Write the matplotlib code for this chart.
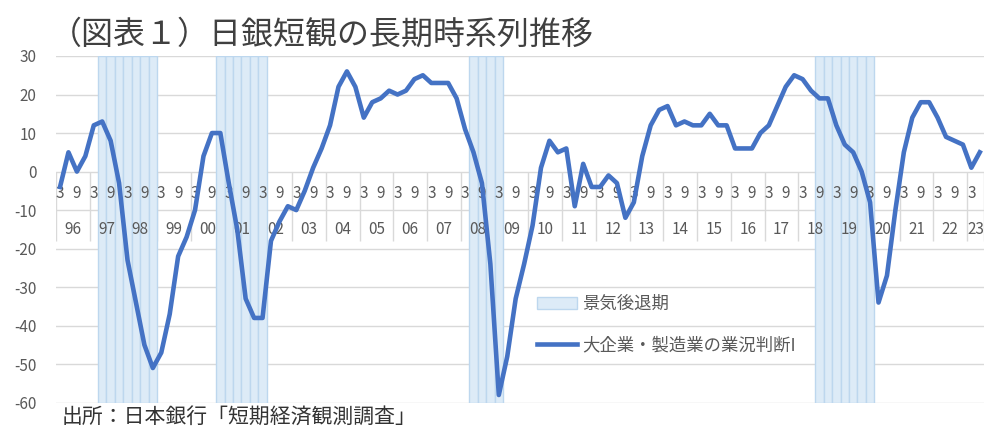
import matplotlib
matplotlib.use("Agg")
import matplotlib.pyplot as plt
from matplotlib.patches import Patch
from matplotlib.lines import Line2D

plt.rcParams['font.family'] = ['Noto Sans CJK JP', 'DejaVu Sans']

# 大企業・製造業の業況判断DI（四半期、1996年3月～2023年6月）
di = [
    -4, 5, 0, 4,
    12, 13, 8, -3,
    -23, -34, -45, -51,
    -47, -37, -22, -17,
    -10, 4, 10, 10,
    -3, -15, -33, -38,
    -38, -18, -13, -9,
    -10, -5, 1, 6,
    12, 22, 26, 22,
    14, 18, 19, 21,
    20, 21, 24, 25,
    23, 23, 23, 19,
    11, 5, -3, -24,
    -58, -48, -33, -24,
    -14, 1, 8, 5,
    6, -9, 2, -4,
    -4, -1, -3, -12,
    -8, 4, 12, 16,
    17, 12, 13, 12,
    12, 15, 12, 12,
    6, 6, 6, 10,
    12, 17, 22, 25,
    24, 21, 19, 19,
    12, 7, 5, 0,
    -8, -34, -27, -10,
    5, 14, 18, 18,
    14, 9, 8, 7,
    1, 5,
]
years = list(range(1996, 2024))
months = [3, 6, 9, 12]
month_labels = {3: "3", 9: "9"}

# 景気後退期（シャドー部分、四半期）
recessions = [
    ((1997, 6), (1998, 12)),
    ((2000, 12), (2002, 3)),
    ((2008, 6), (2009, 3)),
    ((2018, 9), (2020, 3)),
]

yticks = [30, 20, 10, 0, -10, -20, -30, -40, -50, -60]

quarters = [(y, m) for y in years for m in months][:len(di)]
x = list(range(len(quarters)))

LINE = "#4472C4"
FILL = "#DDEBF7"
EDGE = "#BDD7EE"
GRID = "#D9D9D9"
TXT = "#595959"

fig = plt.figure(figsize=(10.02, 4.37), dpi=100)
ax = fig.add_axes([55.8 / 1002, 1 - 402.7 / 437, 928.2 / 1002, 346.7 / 437])
ax.set_xlim(-0.5, len(quarters) - 0.5)
ax.set_ylim(-60, 30)
for s in ax.spines.values():
    s.set_visible(False)

# 目盛線
for v in yticks:
    ax.axhline(v, color=GRID, lw=1.0, zorder=0)

# 景気後退期
shade_x = []
for start, end in recessions:
    i0, i1 = quarters.index(start), quarters.index(end)
    shade_x.extend(range(i0, i1 + 1))
ax.bar(shade_x, [90] * len(shade_x), bottom=-60, width=1.0,
       color=FILL, edgecolor=EDGE, linewidth=1.0, zorder=1)

# 系列
ax.plot(x, di, color=LINE, lw=3.3, zorder=4, solid_joinstyle="round")

# 横軸ラベル（0の位置に表形式で表示）
bounds = [quarters.index((y, 3)) - 0.5 for y in years] + [len(quarters) - 0.5]
ax.vlines(bounds, -18, 0, color=GRID, lw=1.0, zorder=0)
for i, (y, m) in enumerate(quarters):
    if m in month_labels:
        ax.text(i, -5.8, month_labels[m], ha="center", va="center",
                fontsize=11, color=TXT, zorder=3)
for k, y in enumerate(years):
    idx = [i for i, q in enumerate(quarters) if q[0] == y]
    xc = (idx[0] + idx[-1]) / 2
    ax.text(xc, -15.1, f"{y % 100:02d}", ha="center", va="center",
            fontsize=11, color=TXT, zorder=3)

ax.set_xticks([])
ax.set_yticks(yticks)
ax.set_yticklabels([str(v) for v in yticks])
ax.tick_params(axis="y", length=0, pad=14, labelsize=11, labelcolor=TXT)

handles = [Patch(facecolor=FILL, edgecolor=EDGE, linewidth=1.0),
           Line2D([0], [0], color=LINE, lw=3.3)]
labels = ["景気後退期", "大企業・製造業の業況判断I"]
fig.legend(handles, labels, loc="upper left",
           bbox_to_anchor=(528 / 1002, 1 - 286 / 437),
           frameon=False, fontsize=12.5, labelcolor=TXT,
           handlelength=2.3, handletextpad=0.3, labelspacing=1.35,
           borderpad=0.0)

fig.text(50 / 1002, 1 - 35 / 437, "（図表１）日銀短観の長期時系列推移",
         fontsize=23, color="#404040", ha="left", va="center")
fig.text(62 / 1002, 1 - 418 / 437, "出所：日本銀行「短期経済観測調査」",
         fontsize=15, color="#333333", ha="left", va="center")

fig.savefig("out.png", dpi=100)
